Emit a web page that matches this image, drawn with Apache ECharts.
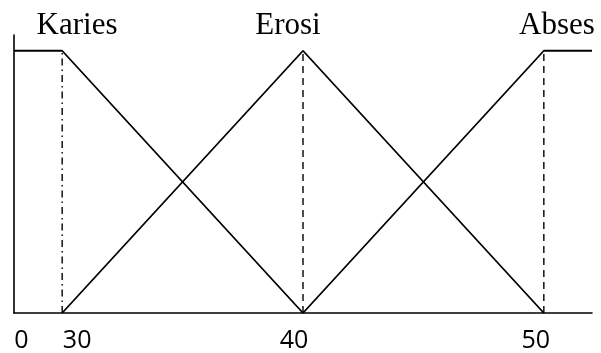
<!DOCTYPE html>
<html>
<head>
<meta charset="utf-8">
<script src="https://cdn.jsdelivr.net/npm/echarts@6/dist/echarts.min.js"></script>
<style>
  html, body { margin: 0; padding: 0; background: #fff; }
  #chart { width: 601px; height: 353px; }
</style>
</head>
<body>
<div id="chart"></div>
<script>
// membership sets (x in axis units, y = degree)
const setNames = ["Karies", "Erosi", "Abses"];
const karies = [[28, 1], [30, 1], [40, 0]];
const erosi = [[30, 0], [40, 1], [50, 0]];
const abses = [[40, 0], [50, 1], [52, 1]];
const guideX = [30, 40, 50];
const tickValues = [28, 30, 40, 50];
const tickLabels = ["0", "30", "40", "50"];

const chart = echarts.init(document.getElementById("chart"));

const lineSeries = (name, data) => ({
  name: name,
  type: "line",
  data: data,
  symbol: "none",
  lineStyle: { color: "#000", width: 1.8 },
  silent: true,
});

const guideSeries = guideX.map((x, i) => ({
  type: "line",
  data: [[x, 0], [x, 1]],
  symbol: "none",
  silent: true,
  lineStyle: {
    color: "#000",
    width: 1.4,
    type: i === 0 ? [7, 4, 1.5, 4] : [7, 5],
  },
}));

// label nudges so they sit where the original typed them
const labelPad = [[0, 0, 0, 15], [0, 0, 0, 30], [0, 18, 0, 0], [0, 16, 0, 0]];
const rich = {};
tickLabels.forEach((t, i) => {
  rich["t" + i] = {
    fontFamily: "Open Sans",
    fontSize: 25,
    color: "#000",
    padding: labelPad[i],
  };
});

const option = {
  animation: false,
  grid: { left: 14, right: 9, top: 35, bottom: 39 },
  xAxis: {
    type: "value",
    min: 28,
    max: 52,
    axisLine: { lineStyle: { color: "#000", width: 1.6 } },
    axisTick: { show: false },
    splitLine: { show: false },
    axisLabel: {
      customValues: tickValues,
      margin: 15,
      formatter: (v) => {
        const i = tickValues.indexOf(v);
        return i < 0 ? "" : "{t" + i + "|" + tickLabels[i] + "}";
      },
      rich: rich,
    },
  },
  yAxis: {
    type: "value",
    min: 0,
    max: 1.06,
    axisLine: { show: true, lineStyle: { color: "#000", width: 1.6 } },
    axisTick: { show: false },
    axisLabel: { show: false },
    splitLine: { show: false },
  },
  graphic: setNames.map((name, i) => ({
    type: "text",
    x: [77, 288, 557][i],
    y: 26,
    style: {
      text: name,
      font: "31px 'Liberation Serif'",
      fill: "#000",
      textAlign: "center",
      textVerticalAlign: "middle",
    },
  })),
  series: [
    lineSeries(setNames[0], karies),
    lineSeries(setNames[1], erosi),
    lineSeries(setNames[2], abses),
    ...guideSeries,
  ],
};

chart.setOption(option);
</script>
</body>
</html>
